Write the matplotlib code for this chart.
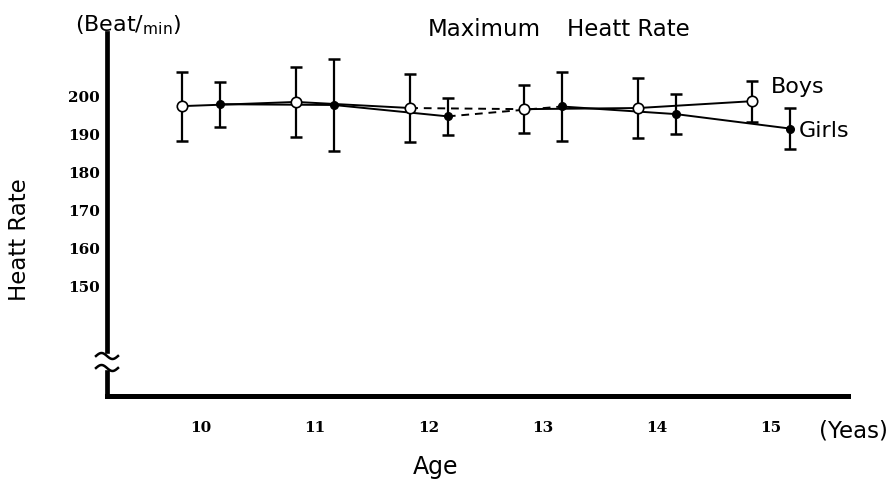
import numpy as np
import matplotlib
matplotlib.use("Agg")
import matplotlib.pyplot as plt

ages = [10, 11, 12, 13, 14, 15]
boys_mean = [197.6, 198.7, 197.1, 196.8, 197.1, 198.9]
boys_sd = [9.1, 9.1, 9.0, 6.4, 8.0, 5.4]
girls_mean = [198.1, 197.9, 194.9, 197.5, 195.5, 191.7]
girls_sd = [5.9, 12.2, 4.8, 9.2, 5.3, 5.3]
ytick_vals = [200, 190, 180, 170, 160, 150]
xtick_labels = ["10", "11", "12", "13", "14", "15"]

W, H = 895, 487
fig = plt.figure(figsize=(W / 100, H / 100), dpi=100)
ax_l, ax_r, ax_t, ax_b = 107, 848, 33, 396
ax = fig.add_axes([ax_l / W, 1 - ax_b / H, (ax_r - ax_l) / W, (ax_b - ax_t) / H])

off = 0.165
bx = np.array(ages) - off
gx = np.array(ages) + off
bm = np.array(boys_mean)
gm = np.array(girls_mean)

lw = 1.4
# solid / dashed segments (12 -> 13 dashed)
for x, m in [(bx, bm), (gx, gm)]:
    ax.plot(x[:3], m[:3], color="black", lw=lw, zorder=2)
    ax.plot(x[2:4], m[2:4], color="black", lw=lw, ls=(0, (4, 3)), zorder=2)
    ax.plot(x[3:], m[3:], color="black", lw=lw, zorder=2)

ax.errorbar(bx, bm, yerr=boys_sd, fmt="none", ecolor="black", elinewidth=1.6,
            capsize=4, capthick=1.8, zorder=3)
ax.errorbar(gx, gm, yerr=girls_sd, fmt="none", ecolor="black", elinewidth=1.6,
            capsize=4, capthick=1.8, zorder=3)
ax.plot(bx, bm, "o", ms=7.5, mfc="white", mec="black", mew=1.2, ls="none", zorder=4)
ax.plot(gx, gm, "o", ms=5.5, mfc="black", mec="black", ls="none", zorder=4)

x0 = 10 - (201 - ax_l) / 114.0
x1 = 10 + (ax_r - 201) / 114.0
ax.set_xlim(x0, x1)
y_top = 200 + (97 - ax_t) / 3.8
y_bot = 200 - (ax_b - 97) / 3.8
ax.set_ylim(y_bot, y_top)

ax.spines["top"].set_visible(False)
ax.spines["right"].set_visible(False)
ax.spines["left"].set_linewidth(3.4)
ax.spines["bottom"].set_linewidth(3.6)
ax.spines["left"].set_capstyle("projecting")

ax.set_yticks(ytick_vals)
ax.set_yticklabels([str(v) for v in ytick_vals])
ax.set_xticks(ages)
ax.set_xticklabels(xtick_labels)
ax.tick_params(length=0)
for lab in ax.get_yticklabels() + ax.get_xticklabels():
    lab.set_fontfamily("DejaVu Serif")
    lab.set_fontweight("bold")
    lab.set_fontsize(11)
ax.tick_params(axis="y", pad=5)
ax.tick_params(axis="x", pad=18)

# axis break on y-axis
bt = fig.transFigure
def fx(px):
    return np.asarray(px) / W
def fy(py):
    return 1 - np.asarray(py) / H
fig.patches.append(plt.Rectangle((fx(102), fy(369)), 12 / W, (369 - 354) / H,
                                 transform=bt, color="white", zorder=10))
t = np.linspace(0, 1, 40)
for yc in [356, 368]:
    xs = 96 + 22 * t
    ys = yc - 3.0 * np.sin(2 * np.pi * t)
    fig.add_artist(plt.Line2D(fx(xs), fy(ys), color="black", lw=1.8, transform=bt, zorder=11))

# texts
fig.text(fx(75), fy(25), r"(Beat/$_{\mathrm{min}}$)", fontsize=16, va="center", ha="left")
fig.text(fx(428), fy(30), "Maximum", fontsize=16.5, va="center", ha="left")
fig.text(fx(567), fy(30), "Heatt Rate", fontsize=16.5, va="center", ha="left")
fig.text(fx(771), fy(87), "Boys", fontsize=16, va="center", ha="left")
fig.text(fx(799), fy(131), "Girls", fontsize=16, va="center", ha="left")
fig.text(fx(819), fy(431), "(Yeas)", fontsize=16.5, va="center", ha="left")
fig.text(fx(436), fy(467), "Age", fontsize=17, va="center", ha="center")
fig.text(fx(20), fy(240), "Heatt Rate", fontsize=16.5, va="center", ha="center", rotation=90)

fig.savefig("out.png", dpi=100)
